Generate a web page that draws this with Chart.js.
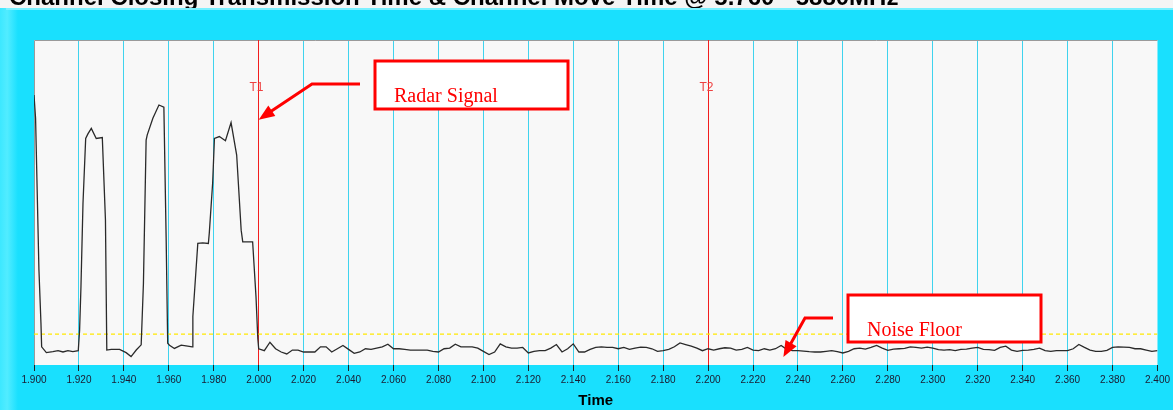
<!DOCTYPE html>
<html>
<head>
<meta charset="utf-8">
<title>Channel Closing Transmission Time</title>
<script src="https://cdn.jsdelivr.net/npm/chart.js@4.4.1/dist/chart.umd.min.js"></script>
<style>
    html, body { margin: 0; padding: 0; background: #19E0FE; }
    #wrap { width: 1173px; height: 410px; }
</style>
</head>
<body>
<div id="wrap"><canvas id="scopeChart" width="1173" height="410"></canvas></div>
<script>
// Captured trace (arbitrary level units, 0..100)
const pulseTimes = [1.9000, 1.9007, 1.9022, 1.9031, 1.9034, 1.9055, 1.9084, 1.9107, 1.9129, 1.9151,
    1.9173, 1.9197, 1.9203, 1.9209, 1.9218, 1.9230, 1.9240, 1.9255, 1.9277, 1.9304,
    1.9318, 1.9324, 1.9344, 1.9381, 1.9410, 1.9432, 1.9455, 1.9477, 1.9487, 1.9499,
    1.9504, 1.9529, 1.9556, 1.9578, 1.9588, 1.9595, 1.9603, 1.9625, 1.9655, 1.9684,
    1.9704, 1.9707, 1.9729, 1.9751, 1.9776, 1.9780, 1.9795, 1.9803, 1.9825, 1.9852,
    1.9877, 1.9902, 1.9922, 1.9929, 1.9973, 1.9988, 1.9996];
const pulseLevels = [83.1, 75.9, 29.2, 12.8, 5.6, 3.8, 4.1, 4.4, 4.0, 4.4,
    4.1, 4.4, 10.8, 24.1, 49.7, 69.7, 71.1, 72.8, 69.7, 70.0,
    44.6, 4.6, 4.8, 4.8, 3.8, 2.6, 4.6, 6.2, 25.1, 69.2,
    70.8, 75.9, 80.0, 79.3, 39.5, 6.7, 6.1, 5.1, 6.1, 5.8,
    5.6, 14.9, 37.4, 37.6, 37.4, 40.5, 55.9, 69.7, 70.3, 69.0,
    74.6, 64.6, 41.5, 37.9, 37.9, 21.0, 8.2];

// after T1 the scope samples every 2.5 ms
const noiseStart = 2.000;
const noiseStep = 0.0025;
const noiseLevels = [
    5.0, 4.4, 7.0, 5.0, 4.0, 3.4, 4.6, 4.6, 4.0, 4.0, 4.0, 5.6, 5.6, 4.0, 5.0, 6.0, 4.8, 3.6, 4.0, 5.0,
    4.8, 5.2, 5.6, 6.4, 5.0, 5.0, 4.8, 4.6, 4.6, 4.6, 4.6, 4.2, 4.0, 5.0, 5.2, 6.4, 5.6, 5.6, 5.6, 5.2,
    4.2, 3.2, 4.0, 6.5, 5.6, 5.2, 5.2, 5.4, 3.7, 4.2, 4.4, 4.4, 5.2, 6.3, 4.0, 5.0, 6.5, 4.0, 4.0, 4.8,
    5.4, 5.6, 5.4, 5.4, 5.0, 5.4, 4.8, 5.2, 5.5, 5.4, 5.0, 4.2, 4.4, 4.8, 5.6, 6.8, 6.3, 5.8, 5.2, 4.4,
    5.0, 4.6, 5.0, 5.3, 5.2, 4.6, 4.8, 5.4, 4.6, 4.4, 5.0, 4.6, 5.0, 6.0, 4.8, 4.4, 4.4, 4.3, 4.1, 4.0,
    4.0, 4.2, 4.4, 4.1, 3.7, 4.2, 5.0, 5.2, 4.9, 5.4, 6.0, 5.2, 4.5, 4.9, 5.0, 5.1, 5.6, 5.4, 5.2, 5.5,
    5.2, 4.7, 4.6, 4.7, 4.4, 4.8, 4.9, 5.2, 5.4, 4.8, 4.7, 4.5, 5.4, 5.8, 4.6, 4.2, 4.5, 4.6, 4.8, 5.2,
    4.4, 4.2, 4.4, 4.4, 4.4, 5.0, 6.3, 5.4, 4.6, 4.2, 4.2, 4.5, 5.4, 5.6, 5.5, 5.4, 5.0, 5.0, 4.6, 4.2,
    4.4];

const noiseFloorLevel = 9.5;
const timeRange = [1.900, 2.400];
const timeStep = 0.02;

// markers: name, time
const markerNames = ['T1', 'T2'];
const markerTimes = [2.000, 2.200];

const titleText = 'Channel Closing Transmission Time & Channel Move Time @ 5.760 - 5880MHz';

// build the point list for the trace
const tracePoints = pulseTimes.map((t, i) => ({ x: t, y: pulseLevels[i] }));
noiseLevels.forEach((v, i) => {
    tracePoints.push({ x: +(noiseStart + i * noiseStep).toFixed(4), y: v });
});

const CYAN = '#19E0FE';
const GRID_CYAN = '#3FD3EE';
const ANNOT_RED = '#FF0000';

// same rounding Chart.js uses for its 1px grid lines
const alignPx = (p) => Math.round(p - 0.5) + 0.5;

function drawArrow(ctx, pts, head) {
    ctx.save();
    ctx.strokeStyle = ANNOT_RED;
    ctx.fillStyle = ANNOT_RED;
    ctx.lineWidth = 3;
    ctx.lineJoin = 'miter';
    const n = pts.length;
    const tip = pts[n - 1];
    const prev = pts[n - 2];
    const ang = Math.atan2(tip[1] - prev[1], tip[0] - prev[0]);
    // stop the shaft before the head
    const bx = tip[0] - Math.cos(ang) * head * 0.8;
    const by = tip[1] - Math.sin(ang) * head * 0.8;
    ctx.beginPath();
    ctx.moveTo(pts[0][0], pts[0][1]);
    for (let i = 1; i < n - 1; i++) ctx.lineTo(pts[i][0], pts[i][1]);
    ctx.lineTo(bx, by);
    ctx.stroke();
    ctx.beginPath();
    ctx.moveTo(tip[0], tip[1]);
    ctx.lineTo(tip[0] - head * Math.cos(ang - 0.38), tip[1] - head * Math.sin(ang - 0.38));
    ctx.lineTo(tip[0] - head * Math.cos(ang + 0.38), tip[1] - head * Math.sin(ang + 0.38));
    ctx.closePath();
    ctx.fill();
    ctx.restore();
}

function drawLabelBox(ctx, x, y, w, h, text) {
    ctx.save();
    ctx.fillStyle = '#FFFFFF';
    ctx.fillRect(x, y, w, h);
    ctx.strokeStyle = ANNOT_RED;
    ctx.lineWidth = 3;
    ctx.strokeRect(x, y, w, h);
    ctx.fillStyle = ANNOT_RED;
    ctx.font = '20px "Liberation Serif", "Times New Roman", serif';
    ctx.textBaseline = 'alphabetic';
    ctx.fillText(text, x + 19, y + 41);
    ctx.restore();
}

const scopeFrame = {
    id: 'scopeFrame',
    beforeDraw(chart) {
        const ctx = chart.ctx;
        const area = chart.chartArea;
        ctx.save();
        // panel background
        ctx.fillStyle = CYAN;
        ctx.fillRect(0, 0, chart.width, chart.height);
        // left bevel
        const grad = ctx.createLinearGradient(0, 0, 18, 0);
        grad.addColorStop(0, '#3CE8FF');
        grad.addColorStop(0.4, '#52ECFF');
        grad.addColorStop(1, CYAN);
        ctx.fillStyle = grad;
        ctx.fillRect(0, 8, 18, chart.height - 8);
        // white strip with clipped window title
        ctx.fillStyle = '#F4F4F4';
        ctx.fillRect(0, 0, chart.width, 8);
        ctx.fillStyle = '#7AF0FF';
        ctx.fillRect(6, 8, chart.width - 6, 2);
        ctx.beginPath();
        ctx.rect(0, 0, chart.width, 8);
        ctx.clip();
        ctx.fillStyle = '#000000';
        ctx.font = 'bold 24px Arial, "Liberation Sans", sans-serif';
        ctx.textBaseline = 'alphabetic';
        ctx.fillText(titleText, 9, 5);
        ctx.restore();

        // plot background
        ctx.save();
        ctx.fillStyle = '#F8F8F8';
        ctx.fillRect(area.left, area.top, area.right - area.left, area.bottom - area.top);
        ctx.restore();
    },
    beforeDatasetsDraw(chart) {
        const ctx = chart.ctx;
        const area = chart.chartArea;
        const xs = chart.scales.x;
        ctx.save();
        // frame: grey top and left edge
        ctx.strokeStyle = '#9A9A9A';
        ctx.lineWidth = 1;
        ctx.beginPath();
        ctx.moveTo(area.left + 0.5, area.bottom);
        ctx.lineTo(area.left + 0.5, area.top + 0.5);
        ctx.lineTo(area.right, area.top + 0.5);
        ctx.stroke();
        // cursor markers
        markerTimes.forEach((t, i) => {
            const px = alignPx(xs.getPixelForValue(t));
            ctx.strokeStyle = '#F21E1E';
            ctx.beginPath();
            ctx.moveTo(px, area.top);
            ctx.lineTo(px, area.bottom);
            ctx.stroke();
            ctx.fillStyle = '#EE4040';
            ctx.font = '12px Arial, "Liberation Sans", sans-serif';
            ctx.textAlign = 'center';
            ctx.textBaseline = 'middle';
            ctx.fillText(markerNames[i], px - 2, 88);
        });
        ctx.restore();
    },
    afterDatasetsDraw(chart) {
        const ctx = chart.ctx;
        const xs = chart.scales.x;
        const ys = chart.scales.y;

        // "Radar Signal" callout pointing at T1
        const tip1 = [xs.getPixelForValue(2.000), ys.getPixelForValue(75.5)];
        drawArrow(ctx, [[360, 84], [312, 84], tip1], 17);
        drawLabelBox(ctx, 375, 61, 193, 48, 'Radar Signal');

        // "Noise Floor" callout pointing at the trace
        const tip2 = [xs.getPixelForValue(2.2335), ys.getPixelForValue(2.5)];
        drawArrow(ctx, [[833, 318], [805, 318], tip2], 17);
        drawLabelBox(ctx, 848, 295, 193, 47, 'Noise Floor');
    }
};

const isEdgeTick = (v) => Math.abs(v - timeRange[0]) < 1e-6 || Math.abs(v - timeRange[1]) < 1e-6;
const isMarkerTick = (v) => markerTimes.some(t => Math.abs(v - t) < 1e-6);

new Chart(document.getElementById('scopeChart'), {
    type: 'line',
    data: {
        datasets: [
            {
                label: 'Signal',
                data: tracePoints,
                borderColor: '#2A2A2A',
                borderWidth: 1.3,
                pointRadius: 0,
                tension: 0,
                order: 1
            },
            {
                label: 'Noise floor',
                data: [{ x: timeRange[0], y: noiseFloorLevel }, { x: timeRange[1], y: noiseFloorLevel }],
                borderColor: '#FFE800',
                borderWidth: 1.2,
                borderDash: [4, 3],
                pointRadius: 0,
                order: 2
            }
        ]
    },
    options: {
        responsive: false,
        animation: false,
        devicePixelRatio: 1,
        layout: { padding: { left: 34, right: 14, top: 40, bottom: 0 } },
        plugins: {
            legend: { display: false },
            tooltip: { enabled: false }
        },
        scales: {
            x: {
                type: 'linear',
                min: timeRange[0],
                max: timeRange[1],
                border: { display: false },
                grid: {
                    color: (c) => (c.tick && (isEdgeTick(c.tick.value) || isMarkerTick(c.tick.value))) ? 'rgba(0,0,0,0)' : GRID_CYAN,
                    lineWidth: 1,
                    tickColor: '#222222',
                    tickLength: 6
                },
                ticks: {
                    stepSize: timeStep,
                    autoSkip: false,
                    maxRotation: 0,
                    padding: 3,
                    color: '#1A1A30',
                    font: { family: 'Arial, "Liberation Sans", sans-serif', size: 10 },
                    callback: (v) => Number(v).toFixed(3)
                },
                title: {
                    display: true,
                    text: 'Time',
                    color: '#000000',
                    font: { family: 'Arial, "Liberation Sans", sans-serif', size: 15, weight: 'bold' },
                    padding: { top: 3, bottom: 0 }
                }
            },
            y: {
                display: false,
                min: 0,
                max: 100
            }
        }
    },
    plugins: [scopeFrame]
});
</script>
</body>
</html>
